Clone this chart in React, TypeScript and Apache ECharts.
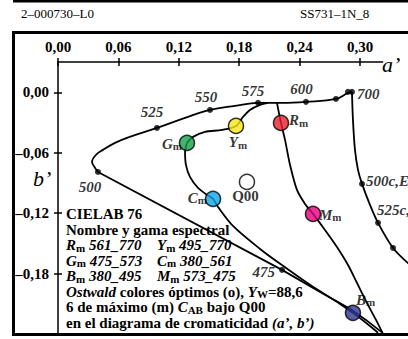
import React, { useEffect, useRef } from 'react';
import * as echarts from 'echarts';

// ---------- data (a', b') ----------
const xTicks = [0, 0.06, 0.12, 0.18, 0.24, 0.3];
const yTicks = [0, -0.06, -0.12, -0.18];

// spectral locus, straight part (bottom edge -> 475 -> 500)
const locusLower = [
  [0.3218, -0.2384], [0.3059, -0.226], [0.2901, -0.215], [0.2603, -0.1982],
  [0.2225, -0.1763], [0.0397, -0.079],
];
// spectral locus, curved part (500 -> 700)
const locusUpper = [
  [0.0397, -0.079], [0.0368, -0.075], [0.0338, -0.069], [0.0377, -0.0621],
  [0.0447, -0.0571], [0.0566, -0.0502], [0.0685, -0.0452], [0.0983, -0.0353],
  [0.1262, -0.0253], [0.151, -0.0174], [0.1758, -0.0134], [0.1987, -0.0104],
  [0.2225, -0.0104], [0.2463, -0.0094], [0.2761, -0.0065], [0.288, -0.0005],
  [0.292, 0.0005],
];
// purple line from 700 (complementary wavelengths)
const purpleLine = [
  [0.292, 0.0005], [0.293, -0.0273], [0.295, -0.0571], [0.298, -0.077],
  [0.302, -0.0909], [0.3099, -0.1117], [0.3179, -0.1296], [0.3328, -0.1545],
  [0.3497, -0.1714],
];
// optimal colour boundary R_m -> M_m -> bottom
const redMagentaLine = [
  [0.2175, -0.0104], [0.2215, -0.0303], [0.2255, -0.0472], [0.2305, -0.072],
  [0.2374, -0.0969], [0.2454, -0.1108], [0.2533, -0.1207], [0.2652, -0.1366],
  [0.2771, -0.1535], [0.2881, -0.1714], [0.297, -0.1893], [0.3079, -0.2111],
  [0.3159, -0.226], [0.3228, -0.2399],
];
// G_m -> Y_m -> locus
const greenYellowLine = [
  [0.1281, -0.0502], [0.1341, -0.0442], [0.146, -0.0392], [0.1629, -0.0373],
  [0.1768, -0.0333], [0.1838, -0.0243], [0.1907, -0.0174], [0.2007, -0.0124],
  [0.2086, -0.0104],
];
// G_m -> C_m -> B_m -> bottom
const greenCyanBlueLine = [
  [0.1281, -0.0502], [0.1262, -0.0591], [0.1271, -0.072], [0.1311, -0.0839],
  [0.1391, -0.0949], [0.148, -0.1018], [0.154, -0.1058], [0.1589, -0.1137],
  [0.1738, -0.1326], [0.2007, -0.1555], [0.2235, -0.1723], [0.2503, -0.1912],
  [0.2801, -0.2101], [0.293, -0.219], [0.3059, -0.2289], [0.3179, -0.2388],
];

// wavelength markers
const markerNames = ['475', '500', '525', '550', '575', '600', '', '', '700', '500c,E', '525c,', ''];
const markerPoints = [
  [0.2225, -0.1763], [0.0397, -0.079], [0.0983, -0.0353], [0.151, -0.0174],
  [0.1987, -0.0104], [0.2463, -0.0094], [0.2761, -0.0065], [0.288, 0.0005],
  [0.292, 0.0005], [0.302, -0.0909], [0.3179, -0.1296], [0.3328, -0.1545],
];

// six maximum-chroma colours + grey point
const primaryNames = ['G', 'Y', 'R', 'C', 'M', 'B'];
const primaryPoints = [
  [0.1281, -0.0502], [0.1768, -0.0333], [0.2215, -0.0303],
  [0.154, -0.1058], [0.2533, -0.1207], [0.293, -0.219],
];
const greyName = 'Q00';
const greyPoint = [0.1877, -0.0889];

const infoLines = [
  '{b|CIELAB 76}',
  '{b|Nombre y gama espectral}',
  '{i|R}{s|m}{i| 561_770}',
  '{i|Y}{s|m}{i| 495_770}',
  '{i|G}{s|m}{i| 475_573}',
  '{i|C}{s|m}{i| 380_561}',
  '{i|B}{s|m}{i| 380_495}',
  '{i|M}{s|m}{i| 573_475}',
  '{i|Ostwald}{b| colores óptimos (o), }{i|Y}{s|W}{b|=88,6}',
  '{b|6 de máximo (m) }{i|C}{s|AB}{b| bajo Q00}',
  '{b|en el diagrama de cromaticidad }{i|(a’, b’)}',
];

// ---------- styles / layout ----------
const FF = 'Liberation Serif';
const K = 1006.7;
const GRID = { left: 58, top: 62, width: 350, height: 272 };
const X_MAX = GRID.width / K;
const Y_MIN = -0.24;
const Y_MAX = Y_MIN + GRID.height / K;
const X_AXIS_END = 0.323;
const FS = 15;

const primaryColors: Record<string, string> = {
  G: '#14a04a', Y: '#f5e61a', R: '#e61f2a', C: '#10a3e3', M: '#e4007f', B: '#2d3590',
};
const primaryLabel: Record<string, [string, number, number]> = {
  G: ['right', -5, 1], Y: ['center', 2, 16.5], R: ['left', 8, -2.5],
  C: ['right', -6, -1], M: ['left', 6, 1], B: ['left', 3, -13],
};
const markerLabel: Record<string, [string, number, number]> = {
  '475': ['right', -7, 2], '500': ['center', -8, 15], '525': ['center', -5, -16],
  '550': ['center', -4, -12.5], '575': ['center', -5, -11.5], '600': ['center', -4.5, -13],
  '700': ['left', 5, 2], '500c,E': ['left', 4, -3], '525c,': ['left', -1, -13],
};
const infoPos: [number, number][] = [
  [66, 214], [66, 229.5], [66, 245], [157, 245], [66, 260.5], [157, 260.5],
  [66, 276], [157, 276], [66, 291.5], [66, 307], [66, 322.5],
];

const rich = {
  b: { fontFamily: FF, fontWeight: 'bold', fontSize: FS, lineHeight: 16, color: '#000' },
  i: { fontFamily: FF, fontWeight: 'bold', fontStyle: 'italic', fontSize: FS, lineHeight: 16, color: '#000' },
  s: { fontFamily: FF, fontWeight: 'bold', fontSize: 11, lineHeight: 6, verticalAlign: 'bottom', color: '#000' },
};
const labelRich = {
  i: { fontFamily: FF, fontWeight: 'bold', fontStyle: 'italic', fontSize: 15, lineHeight: 16, color: '#000' },
  s: { fontFamily: FF, fontWeight: 'bold', fontSize: 11, lineHeight: 6, verticalAlign: 'bottom', color: '#000' },
};

const fmt = (v: number) => {
  const s = Math.abs(v).toFixed(2).replace('.', ',');
  return v < -1e-9 ? '–' + s : s;
};

const tickLine = { color: '#000', width: 1.5 };
const labelFont = { fontFamily: FF, fontWeight: 'bold' as const, fontSize: FS, color: '#000' };

const curve = (data: number[][], smooth: number | boolean) => ({
  type: 'line',
  data,
  symbol: 'none',
  smooth,
  silent: true,
  lineStyle: { color: '#000', width: 1.8 },
  z: 2,
});

function buildOption() {
  const markerData = markerPoints.map((p, i) => {
    const n = markerNames[i];
    const cfg = markerLabel[n];
    return {
      value: p,
      name: n,
      label: cfg
        ? {
            show: true, position: 'inside', formatter: n, align: cfg[0], verticalAlign: 'middle',
            offset: [cfg[1], cfg[2]], fontFamily: FF, fontWeight: 'bold', fontStyle: 'italic',
            fontSize: FS, color: '#000',
          }
        : { show: false },
    };
  });
  const primaryData: any[] = primaryPoints.map((p, i) => {
    const n = primaryNames[i];
    const cfg = primaryLabel[n];
    return {
      value: p,
      name: n,
      itemStyle: { color: primaryColors[n], borderColor: '#000', borderWidth: 1.5 },
      label: {
        show: true, position: 'inside', formatter: `{i|${n}}{s|m}`, rich: labelRich,
        align: cfg[0], verticalAlign: 'middle', offset: [cfg[1], cfg[2]],
      },
    };
  });
  primaryData.push({
    value: greyPoint,
    name: greyName,
    itemStyle: { color: '#fff', borderColor: '#000', borderWidth: 1.5 },
    label: {
      show: true, position: 'inside', formatter: greyName, align: 'center', verticalAlign: 'middle',
      offset: [-1.5, 14], fontFamily: FF, fontWeight: 'bold', fontSize: FS, color: '#000',
    },
  });

  const graphic: any[] = [
    { type: 'rect', shape: { x: 13, y: 0, width: 395, height: 2.5 }, style: { fill: '#000' }, z: 200 },
    { type: 'rect', shape: { x: 12, y: 31, width: 396, height: 3 }, style: { fill: '#000' }, z: 200 },
    { type: 'rect', shape: { x: 12, y: 31, width: 3, height: 305 }, style: { fill: '#000' }, z: 200 },
    { type: 'rect', shape: { x: 12, y: 333, width: 396, height: 3 }, style: { fill: '#000' }, z: 200 },
    {
      type: 'text', x: 21, y: 13, z: 200,
      style: { text: '2–000730–L0', font: `13px "${FF}"`, fill: '#000', verticalAlign: 'middle' },
    },
    {
      type: 'text', x: 300, y: 13, z: 200,
      style: { text: 'SS731–1N_8', font: `13px "${FF}"`, fill: '#000', verticalAlign: 'middle' },
    },
    {
      type: 'text', x: 382, y: 64.5, z: 200,
      style: { text: 'a’', font: `italic 22px "${FF}"`, fill: '#000', verticalAlign: 'middle' },
    },
    {
      type: 'text', x: 33, y: 178, z: 200,
      style: { text: 'b’', font: `italic 22px "${FF}"`, fill: '#000', verticalAlign: 'middle' },
    },
  ];
  infoLines.forEach((t, i) => {
    graphic.push({
      type: 'text', x: infoPos[i][0], y: infoPos[i][1], z: 150,
      style: { text: t, rich, fill: '#000', verticalAlign: 'middle', font: `bold ${FS}px "${FF}"` },
    });
  });

  return {
    animation: false,
    backgroundColor: '#fff',
    grid: { ...GRID, containLabel: false },
    xAxis: [
      {
        type: 'value', position: 'top', min: 0, max: X_MAX,
        axisLine: { show: false, onZero: false },
        splitLine: { show: false },
        axisTick: { show: true, inside: false, length: 4, customValues: xTicks, lineStyle: tickLine },
        axisLabel: { customValues: xTicks, formatter: fmt, margin: 8, ...labelFont },
      },
      {
        type: 'value', position: 'top', min: 0, max: X_MAX,
        axisLine: { show: false, onZero: false },
        splitLine: { show: false },
        axisTick: { show: true, inside: true, length: 4, customValues: xTicks, lineStyle: tickLine },
        axisLabel: { show: false },
      },
    ],
    yAxis: [
      {
        type: 'value', position: 'left', min: Y_MIN, max: Y_MAX,
        axisLine: { show: true, onZero: false, lineStyle: tickLine },
        splitLine: { show: false },
        axisTick: { show: true, inside: false, length: 4, customValues: yTicks, lineStyle: tickLine },
        axisLabel: { customValues: yTicks, formatter: fmt, margin: 9, ...labelFont },
      },
      {
        type: 'value', position: 'left', min: Y_MIN, max: Y_MAX,
        axisLine: { show: false, onZero: false },
        splitLine: { show: false },
        axisTick: { show: true, inside: true, length: 4, customValues: yTicks, lineStyle: tickLine },
        axisLabel: { show: false },
      },
    ],
    graphic,
    series: [
      {
        type: 'line', data: [[0, Y_MAX], [X_AXIS_END, Y_MAX]], symbol: 'none', clip: false,
        silent: true, lineStyle: { color: '#000', width: 1.5 }, z: 3,
      },
      curve(locusLower, false),
      curve(locusUpper, 0.4),
      curve(purpleLine, 0.3),
      curve(redMagentaLine, 0.3),
      curve(greenYellowLine, 0.3),
      curve(greenCyanBlueLine, 0.3),
      {
        type: 'scatter', data: markerData, symbol: 'circle', symbolSize: 6, silent: true,
        itemStyle: { color: '#000' }, z: 4,
      },
      {
        type: 'scatter', data: primaryData, symbol: 'circle', symbolSize: 15, silent: true, z: 5,
      },
    ],
  };
}

export default function App() {
  const ref = useRef<HTMLDivElement>(null);
  useEffect(() => {
    if (!ref.current) return;
    const chart = echarts.init(ref.current, null, { renderer: 'svg' });
    chart.setOption(buildOption() as any);
    return () => chart.dispose();
  }, []);
  return (
    <div
      ref={ref}
      style={{ position: 'fixed', left: 0, top: 0, width: 408, height: 339, background: '#fff' }}
    />
  );
}
